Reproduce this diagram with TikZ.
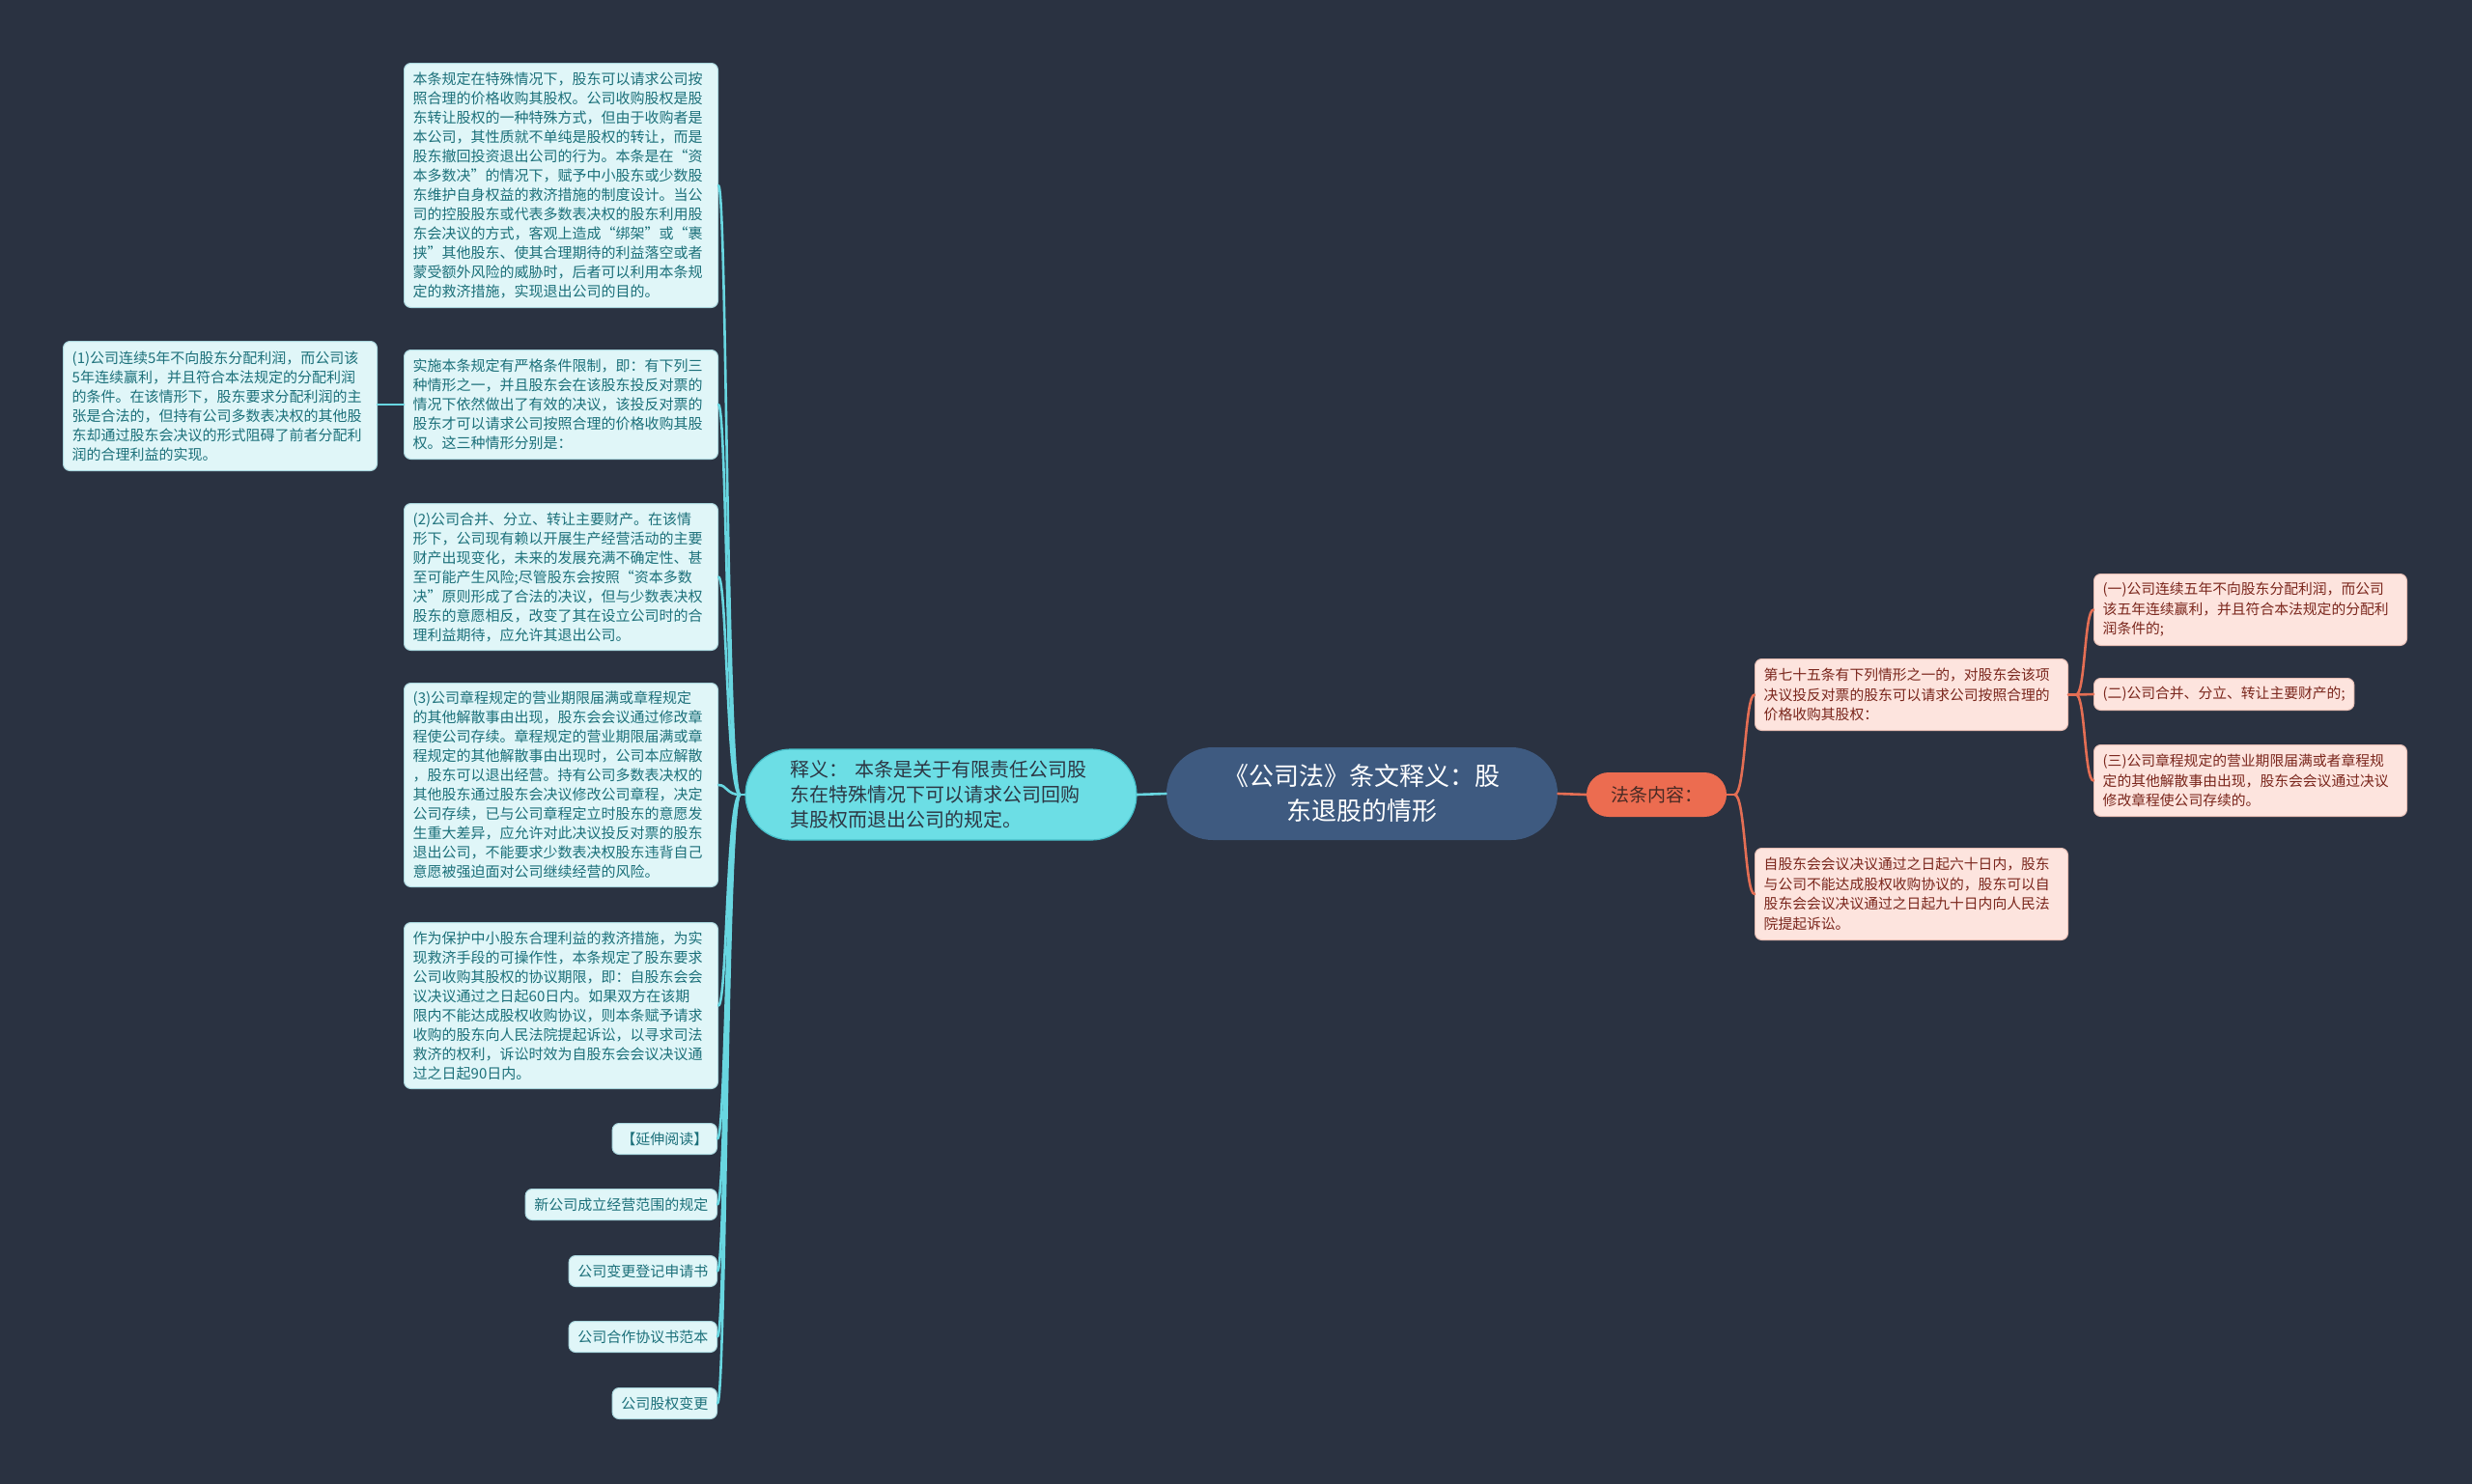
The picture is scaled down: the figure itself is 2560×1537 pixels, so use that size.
\documentclass[tikz,border=0pt]{standalone}
\usepackage{fontspec}
\setmainfont{Noto Sans CJK SC}
\usetikzlibrary{calc}
\definecolor{bg}{RGB}{42,50,65}
\definecolor{lfill}{RGB}{224,246,248}
\definecolor{ldraw}{RGB}{170,215,222}
\definecolor{ltext}{RGB}{28,112,122}
\definecolor{lline}{RGB}{104,214,224}
\definecolor{sfill}{RGB}{108,222,229}
\definecolor{sdraw}{RGB}{70,190,200}
\definecolor{stext}{RGB}{45,55,68}
\definecolor{cfill}{RGB}{62,90,128}
\definecolor{ffill}{RGB}{236,108,80}
\definecolor{ftext}{RGB}{72,42,36}
\definecolor{rfill}{RGB}{253,228,222}
\definecolor{rdraw}{RGB}{230,190,180}
\definecolor{rtext}{RGB}{122,38,28}
\definecolor{rline}{RGB}{228,110,84}
\begin{document}
\begin{tikzpicture}[x=0.5pt,y=-0.5pt,
  lbase/.style={draw=ldraw, line width=0.5pt, fill=lfill, text=ltext, rounded corners=3.5pt,
    font=\fontsize{7.5}{10}\selectfont, align=left, inner xsep=4.6pt, inner ysep=0pt},
  lbox/.style={lbase, anchor=north west, text width=153.3pt},
  lsmall/.style={lbase, anchor=north east, minimum height=16pt},
  rbase/.style={draw=rdraw, line width=0.5pt, fill=rfill, text=rtext, rounded corners=3.5pt,
    font=\fontsize{7.4}{10.3}\selectfont, align=left, inner xsep=4.6pt, inner ysep=0pt},
  rbox/.style={rbase, anchor=north west, text width=152.8pt},
  lconn/.style={draw=lline, line width=1.3pt, line cap=round},
  rconn/.style={draw=rline, line width=1.3pt, line cap=round}]
\fill[bg] (0,0) rectangle (2560,1537);
\useasboundingbox (0,0) rectangle (2560,1537);

% central and main branches
\node[fill=cfill, text=white, rounded corners=24pt, minimum width=202.5pt, minimum height=48pt,
  align=center, inner sep=0pt, font=\fontsize{13}{18}\selectfont] (central) at (1410.5,822)
  {《公司法》条文释义：股\\东退股的情形};
\node[draw=sdraw, line width=0.6pt, fill=sfill, text=stext, rounded corners=23.5pt,
  minimum width=202.5pt, minimum height=47pt, text width=156pt, align=left, inner sep=0pt,
  font=\fontsize{10}{13}\selectfont] (shiyi) at (974.5,823)
  {释义： 本条是关于有限责任公司股\\东在特殊情况下可以请求公司回购\\其股权而退出公司的规定。};
\node[fill=ffill, text=ftext, rounded corners=11.5pt, minimum width=72.5pt, minimum height=23pt,
  inner sep=0pt, font=\fontsize{9.5}{12}\selectfont] (fatiao) at (1715.5,823) {法条内容：};

% left column
\node[lbox, minimum height=126.5pt] (A) at (418,65)
{本条规定在特殊情况下，股东可以请求公司按\\
照合理的价格收购其股权。公司收购股权是股\\
东转让股权的一种特殊方式，但由于收购者是\\
本公司，其性质就不单纯是股权的转让，而是\\
股东撤回投资退出公司的行为。本条是在“资\\
本多数决”的情况下，赋予中小股东或少数股\\
东维护自身权益的救济措施的制度设计。当公\\
司的控股股东或代表多数表决权的股东利用股\\
东会决议的方式，客观上造成“绑架”或“裹\\
挟”其他股东、使其合理期待的利益落空或者\\
蒙受额外风险的威胁时，后者可以利用本条规\\
定的救济措施，实现退出公司的目的。};

\node[lbox, minimum height=67pt] (p1) at (65,353)
{(1)公司连续5年不向股东分配利润，而公司该\\
5年连续赢利，并且符合本法规定的分配利润\\
的条件。在该情形下，股东要求分配利润的主\\
张是合法的，但持有公司多数表决权的其他股\\
东却通过股东会决议的形式阻碍了前者分配利\\
润的合理利益的实现。};

\node[lbox, minimum height=56.5pt] (B) at (418,362)
{实施本条规定有严格条件限制，即：有下列三\\
种情形之一，并且股东会在该股东投反对票的\\
情况下依然做出了有效的决议，该投反对票的\\
股东才可以请求公司按照合理的价格收购其股\\
权。这三种情形分别是：};

\node[lbox, minimum height=76pt] (p2) at (418,521)
{(2)公司合并、分立、转让主要财产。在该情\\
形下，公司现有赖以开展生产经营活动的主要\\
财产出现变化，未来的发展充满不确定性、甚\\
至可能产生风险;尽管股东会按照“资本多数\\
决”原则形成了合法的决议，但与少数表决权\\
股东的意愿相反，改变了其在设立公司时的合\\
理利益期待，应允许其退出公司。};

\node[lbox, minimum height=105.5pt] (p3) at (418,707)
{(3)公司章程规定的营业期限届满或章程规定\\
的其他解散事由出现，股东会会议通过修改章\\
程使公司存续。章程规定的营业期限届满或章\\
程规定的其他解散事由出现时，公司本应解散\\
，股东可以退出经营。持有公司多数表决权的\\
其他股东通过股东会决议修改公司章程，决定\\
公司存续，已与公司章程定立时股东的意愿发\\
生重大差异，应允许对此决议投反对票的股东\\
退出公司，不能要求少数表决权股东违背自己\\
意愿被强迫面对公司继续经营的风险。};

\node[lbox, minimum height=86pt] (p4) at (418,955)
{作为保护中小股东合理利益的救济措施，为实\\
现救济手段的可操作性，本条规定了股东要求\\
公司收购其股权的协议期限，即：自股东会会\\
议决议通过之日起60日内。如果双方在该期\\
限内不能达成股权收购协议，则本条赋予请求\\
收购的股东向人民法院提起诉讼，以寻求司法\\
救济的权利，诉讼时效为自股东会会议决议通\\
过之日起90日内。};

\node[lsmall] (s1) at (743,1163) {【延伸阅读】};
\node[lsmall] (s2) at (743,1231) {新公司成立经营范围的规定};
\node[lsmall] (s3) at (743,1300) {公司变更登记申请书};
\node[lsmall] (s4) at (743,1368) {公司合作协议书范本};
\node[lsmall] (s5) at (743,1437) {公司股权变更};

% right side
\node[rbox, minimum height=37pt] (d75) at (1817,682)
{第七十五条有下列情形之一的，对股东会该项\\
决议投反对票的股东可以请求公司按照合理的\\
价格收购其股权：};
\node[rbox, minimum height=47.5pt] (zi) at (1817,878)
{自股东会会议决议通过之日起六十日内，股东\\
与公司不能达成股权收购协议的，股东可以自\\
股东会会议决议通过之日起九十日内向人民法\\
院提起诉讼。};
\node[rbox, minimum height=37pt] (r1) at (2168,594)
{(一)公司连续五年不向股东分配利润，而公司\\
该五年连续赢利，并且符合本法规定的分配利\\
润条件的;};
\node[rbase, anchor=north west, minimum height=16.5pt] (r2) at (2168,702)
{(二)公司合并、分立、转让主要财产的;};
\node[rbox, minimum height=37pt] (r3) at (2168,771)
{(三)公司章程规定的营业期限届满或者章程规\\
定的其他解散事由出现，股东会会议通过决议\\
修改章程使公司存续的。};

% connectors left
\draw[lconn] (central.west) -- (shiyi.east);
\draw[lconn] (shiyi.west) -- ++(-5,0) coordinate (lj);
\foreach \n in {A,B,p2,p3,p4,s1,s2,s3,s4,s5}{
  \draw[lconn] (lj) .. controls +(-14,0) and +(9,0) .. (\n.east);
}
\draw[lconn] (B.west) -- (B.west -| p1.east);

% connectors right
\draw[rconn] (central.east) -- (fatiao.west);
\draw[rconn] (fatiao.east) -- ++(8,0) coordinate (rj);
\foreach \n in {d75,zi}{
  \draw[rconn] (rj) .. controls +(11,0) and +(-10,0) .. (\n.west);
}
\draw[rconn] (d75.east) -- ++(8,0) coordinate (rk);
\foreach \n in {r1,r2,r3}{
  \draw[rconn] (rk) .. controls +(9.5,0) and +(-9.5,0) .. (\n.west);
}
\end{tikzpicture}
\end{document}
